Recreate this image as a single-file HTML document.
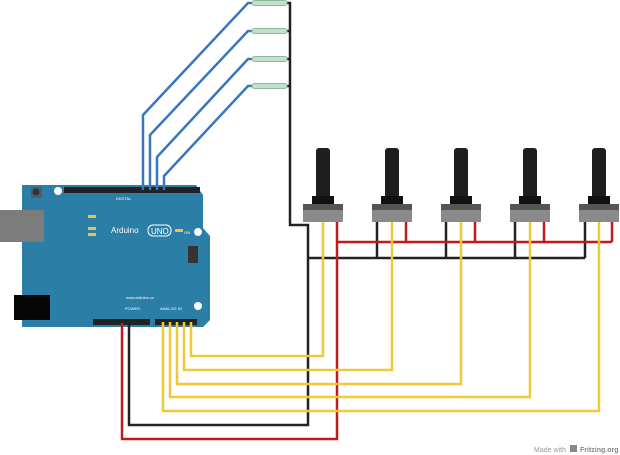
<!DOCTYPE html>
<html><head><style>body{margin:0;background:#fff}svg{display:block}</style></head><body>
<svg width="620" height="455" viewBox="0 0 620 455" xmlns="http://www.w3.org/2000/svg" font-family="Liberation Sans, sans-serif">
<!-- Arduino board -->
<path d="M22 185 H196 L203 195 V228 L210 236 V320 L203 327 H22 Z" fill="#2b7ea6"/>
<rect x="0" y="210" width="44" height="32" fill="#7c7c7c"/>
<rect x="14" y="295" width="36" height="25" fill="#050505"/>
<rect x="31" y="187" width="11" height="11" fill="#46606c"/>
<circle cx="36" cy="192" r="3.5" fill="#333"/>
<circle cx="58" cy="191" r="4" fill="#fff"/>
<circle cx="198" cy="232" r="4" fill="#fff"/>
<circle cx="198" cy="306" r="4" fill="#fff"/>
<rect x="64" y="187" width="136" height="6" fill="#222"/>
<rect x="93" y="319" width="57" height="6" fill="#222"/>
<rect x="155" y="319" width="42" height="6" fill="#222"/>
<rect x="188" y="246" width="10" height="17" fill="#333"/>
<rect x="88" y="215" width="8" height="3" fill="#e8c060"/>
<rect x="88" y="227" width="8" height="3" fill="#e8c060"/>
<rect x="88" y="233" width="8" height="3" fill="#e8c060"/>
<rect x="175" y="229" width="8" height="3" fill="#e8c060"/>
<text x="111" y="233" font-size="8" fill="#fff">Arduino</text>
<rect x="148" y="225" width="23" height="11" rx="5" fill="none" stroke="#fff"/>
<text x="151" y="234" font-size="8" fill="#fff">UNO</text>
<text x="184" y="234" font-size="4" fill="#fff">ON</text>
<text x="126" y="299" font-size="4" fill="#fff">www.arduino.cc</text>
<text x="125" y="310" font-size="4" fill="#fff">POWER</text>
<text x="160" y="310" font-size="4" fill="#fff">ANALOG IN</text>
<text x="116" y="200" font-size="4" fill="#fff">DIGITAL</text>
<g fill="none" stroke-width="2.5">
<!-- blue -->
<g stroke="#3a75c0">
<polyline points="143,190 143,115 248,3 252,3"/>
<polyline points="150,190 150,135 248,31 252,31"/>
<polyline points="157,190 157,157 248,59 252,59"/>
<polyline points="164,190 164,176 248,86 252,86"/>
</g>
<!-- black -->
<g stroke="#222">
<polyline points="287,3 290,3 290,225 308,225 308,425 129,425 129,323"/>
<polyline points="308,258 585,258"/>
<polyline points="377,222 377,258"/><polyline points="446,222 446,258"/><polyline points="515,222 515,258"/><polyline points="585,222 585,258"/>
<line x1="287" y1="31" x2="290" y2="31"/><line x1="287" y1="59" x2="290" y2="59"/><line x1="287" y1="86" x2="290" y2="86"/>
</g>
<!-- red -->
<g stroke="#c21a1a">
<polyline points="122,323 122,439 337,439 337,222"/>
<polyline points="337,242 612,242"/>
<polyline points="406,222 406,242"/><polyline points="475,222 475,242"/><polyline points="544,222 544,242"/><polyline points="612,222 612,242"/>
</g>
<!-- yellow -->
<g stroke="#f0c93a">
<polyline points="163,322 163,411 599,411 599,222"/>
<polyline points="170,322 170,397 530,397 530,222"/>
<polyline points="177,322 177,384 461,384 461,222"/>
<polyline points="184,322 184,370 392,370 392,222"/>
<polyline points="191,322 191,356 323,356 323,222"/>
</g>
</g>
<!-- reed switches -->
<g fill="#bfe3c8" stroke="#8db89a" stroke-width="1">
<rect x="252" y="0.5" width="35" height="5" rx="2.5"/>
<rect x="252" y="28.5" width="35" height="5" rx="2.5"/>
<rect x="252" y="56.5" width="35" height="5" rx="2.5"/>
<rect x="252" y="83.5" width="35" height="5" rx="2.5"/>
</g>
<!-- pots -->
<g id="p">
<rect x="316" y="148" width="14" height="50" rx="3" fill="#1e1e1e"/>
<rect x="312" y="196" width="22" height="9" fill="#111"/>
<rect x="303" y="204" width="40" height="18" fill="#8a8a8a"/>
<rect x="303" y="204" width="40" height="6" fill="#555"/>
</g>
<use href="#p" x="69"/><use href="#p" x="138"/><use href="#p" x="207"/><use href="#p" x="276"/>
<text x="534" y="452" font-size="7" fill="#999">Made with</text>
<rect x="570" y="445" width="7" height="7" fill="#888"/>
<text x="580" y="452" font-size="7" fill="#888" font-weight="bold">Fritzing.org</text>
</svg>
</body></html>
